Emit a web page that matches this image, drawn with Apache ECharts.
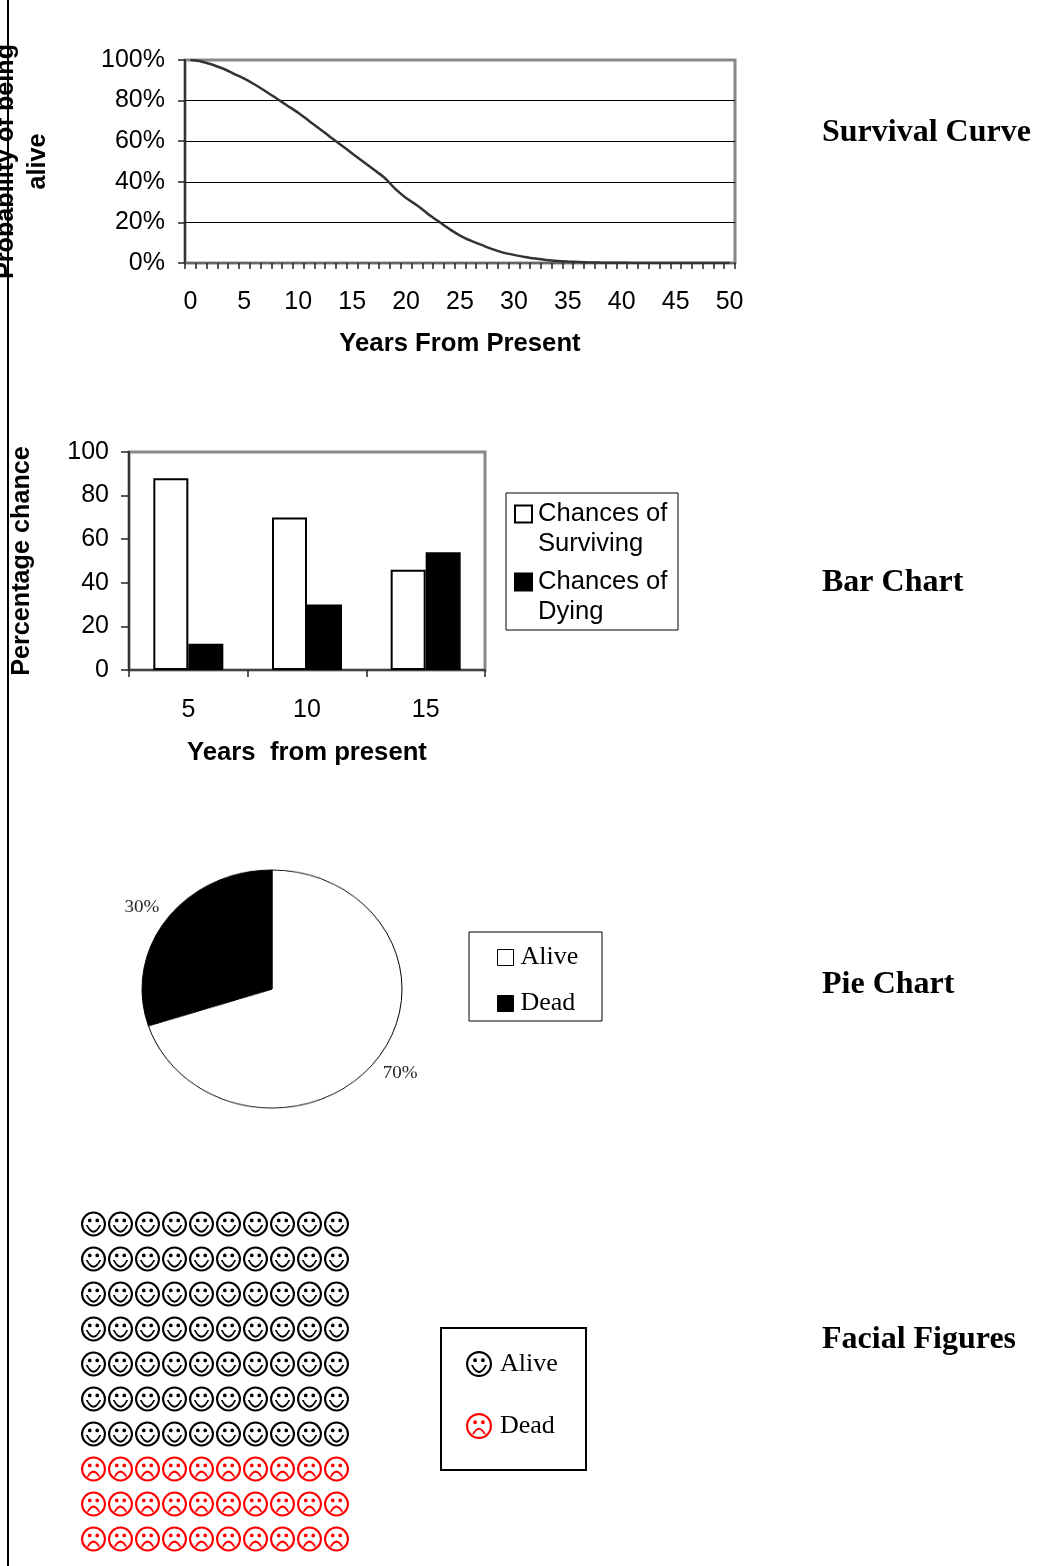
<!DOCTYPE html>
<html><head><meta charset="utf-8">
<style>html,body{margin:0;padding:0;background:#fff}
#main{position:absolute;left:0;top:0;width:1056px;height:1566px}
#pie{position:absolute;left:72px;top:788.5px;width:400px;height:400px;transform:scaleY(0.916);transform-origin:50% 50%}</style>
<script src="https://cdn.jsdelivr.net/npm/echarts@6/dist/echarts.min.js"></script>
</head><body><div id="main"></div><div id="pie"></div>
<script>
const years=['0','1','2','3','4','5','6','7','8','9','10','11','12','13','14','15','16','17','18','19','20','21','22','23','24','25','26','27','28','29','30','31','32','33','34','35','36','37','38','39','40','41','42','43','44','45','46','47','48','49','50'];
const survival=[100,99.3,97.8,95.8,93.3,90.8,87.8,84.5,81,77.5,74,70,66,62,58,54,50,46,42,36.5,32,28.5,24.3,20.5,16.8,13.5,11,8.9,6.8,5.1,4,3,2.2,1.5,1,0.7,0.5,0.3,0.2,0.15,0.1,0.05,0.03,0.02,0.01,0,0,0,0,0,0];
const barYears=['5','10','15'];
const surviving=[88,70,46];
const dying=[12,30,54];
const pieNames=['Alive','Dead'];
const pieValues=[70,30];
const faceCols=['1','2','3','4','5','6','7','8','9','10'];
const faceRows=['1','2','3','4','5','6','7','8','9','10'];
const aliveRows=['1','2','3','4','5','6','7'];
const deadRows=['8','9','10'];
const sectionTitles=['Survival Curve','Bar Chart','Pie Chart','Facial Figures'];

const sans='Liberation Sans',serif='Liberation Serif';
const ring='M0 12A12 12 0 1 1 24 12A12 12 0 1 1 0 12ZM2 12A10 10 0 1 0 22 12A10 10 0 1 0 2 12Z';
const eyes='M6.6 8.6a1.8 1.8 0 1 1 3.6 0a1.8 1.8 0 1 1 -3.6 0ZM13.8 8.6a1.8 1.8 0 1 1 3.6 0a1.8 1.8 0 1 1 -3.6 0Z';
const smile='path://'+ring+eyes+'M4.6 13Q12 28 19.4 13L17.6 13Q12 24 6.4 13Z';
const frown='path://'+ring+eyes+'M5.5 19.5Q12 7.5 18.5 19.5L16.5 19.5Q12 11.5 7.5 19.5Z';
const pairs=(rows)=>rows.flatMap(r=>faceCols.map(c=>[c,r]));
const axisNameX={fontFamily:sans,fontWeight:'bold',fontSize:25.7,color:'#000',lineHeight:32};
const axisNameY={fontFamily:sans,fontWeight:'bold',fontSize:25.2,color:'#000',lineHeight:32};
const lab={fontFamily:sans,fontSize:25,color:'#000'};
const tick={show:true,length:7,lineStyle:{color:'#222',width:1.5}};

const option={
 animation:false,backgroundColor:'#fff',
 title:sectionTitles.map((t,i)=>({text:t,left:822,top:[117,567,969,1324][i],padding:0,
   textStyle:{fontFamily:serif,fontWeight:'bold',fontSize:32,color:'#000'}})),
 grid:[
  {left:185,top:60,width:550,height:203,show:true,borderColor:'#888',borderWidth:3,backgroundColor:'#fff',outerBoundsMode:'none',containLabel:false},
  {left:129,top:452,width:356,height:218,show:true,borderColor:'#888',borderWidth:3,backgroundColor:'#fff',outerBoundsMode:'none',containLabel:false},
  {left:80,top:1206.5,width:270,height:350,outerBoundsMode:'none',containLabel:false}
 ],
 xAxis:[
  {gridIndex:0,type:'category',data:years,boundaryGap:true,
   axisLine:{lineStyle:{color:'#666',width:2}},axisTick:{...tick,length:6,interval:0},
   axisLabel:{...lab,interval:4,margin:27},
   name:'Years From Present',nameLocation:'middle',nameGap:65,nameTextStyle:axisNameX},
  {gridIndex:1,type:'category',data:barYears,
   axisLine:{lineStyle:{color:'#444',width:2}},axisTick:{...tick,length:7},
   axisLabel:{...lab,margin:28},
   name:'Years  from present',nameLocation:'middle',nameGap:67,nameTextStyle:axisNameX},
  {gridIndex:2,type:'category',data:faceCols,show:false}
 ],
 yAxis:[
  {gridIndex:0,type:'value',min:0,max:100,interval:20,
   axisLine:{show:true,lineStyle:{color:'#333',width:2}},axisTick:tick,
   axisLabel:{...lab,margin:20,padding:[4,0,0,0],formatter:'{value}%'},
   splitLine:{show:true,showMinLine:false,showMaxLine:false,lineStyle:{color:'#000',width:1}},
   name:'Probability of being\nalive',nameLocation:'middle',nameRotate:90,nameGap:131,nameTextStyle:axisNameY},
  {gridIndex:1,type:'value',min:0,max:100,interval:20,
   axisLine:{show:true,lineStyle:{color:'#333',width:2}},axisTick:{...tick,length:8},
   axisLabel:{...lab,margin:20,padding:[2,0,0,0]},splitLine:{show:false},
   name:'Percentage chance',nameLocation:'middle',nameRotate:90,nameGap:91,nameTextStyle:axisNameY},
  {gridIndex:2,type:'category',data:faceRows,inverse:true,show:false}
 ],
 legend:[
  {left:514,top:469,padding:0,orient:'vertical',itemGap:-22,itemWidth:17,itemHeight:17,
   data:[{name:'Chances of Surviving',icon:'rect'},{name:'Chances of Dying',icon:'rect'}],
   formatter:n=>'\n'+n.replace(' of ',' of\n'),
   textStyle:{fontFamily:sans,fontSize:25.6,color:'#000',lineHeight:30,padding:[0,0,0,1]}},
  {left:497,top:944.5,padding:0,orient:'vertical',itemGap:20,itemWidth:16,itemHeight:16,
   data:[{name:'Alive',icon:'rect',itemStyle:{color:'#fff',borderColor:'#000',borderWidth:1}},
         {name:'Dead',icon:'rect',itemStyle:{color:'#000',borderColor:'#000',borderWidth:1}}],
   textStyle:{fontFamily:serif,fontSize:26,color:'#000',lineHeight:24,padding:[0,0,0,2]}},
  {left:466,top:1351,padding:0,orient:'vertical',itemGap:36,itemWidth:26,itemHeight:26,
   data:[{name:'Alive',icon:smile,itemStyle:{color:'#000',borderWidth:0}},
         {name:'Dead',icon:frown,itemStyle:{color:'#f00',borderWidth:0}}],
   textStyle:{fontFamily:serif,fontSize:26,color:'#000',padding:[12,0,0,3]}}
 ],
 graphic:[
  {type:'line',shape:{x1:8,y1:0,x2:8,y2:1566},style:{stroke:'#000',lineWidth:2},silent:true},
  {type:'rect',shape:{x:506,y:493,width:172,height:137},style:{fill:null,stroke:'#000',lineWidth:1},silent:true},
  {type:'rect',shape:{x:469,y:932,width:133,height:89},style:{fill:null,stroke:'#000',lineWidth:1},silent:true},
  {type:'rect',shape:{x:441,y:1328,width:145,height:142},style:{fill:null,stroke:'#000',lineWidth:2},silent:true}
 ],
 series:[
  {type:'line',name:'Survival',xAxisIndex:0,yAxisIndex:0,data:survival,symbol:'none',smooth:0.3,
   lineStyle:{color:'#333',width:2.5}},
  {type:'bar',name:'Chances of Surviving',xAxisIndex:1,yAxisIndex:1,data:surviving,barWidth:35,barGap:0,
   itemStyle:{color:'#fff',borderColor:'#000',borderWidth:2}},
  {type:'bar',name:'Chances of Dying',xAxisIndex:1,yAxisIndex:1,data:dying,barWidth:35,barGap:0,
   itemStyle:{color:'#000',borderColor:'#000',borderWidth:2}},
  {type:'scatter',name:'Alive',xAxisIndex:2,yAxisIndex:2,data:pairs(aliveRows),symbol:smile,symbolSize:25,
   itemStyle:{color:'#000',opacity:1}},
  {type:'scatter',name:'Dead',xAxisIndex:2,yAxisIndex:2,data:pairs(deadRows),symbol:frown,symbolSize:25,
   itemStyle:{color:'#f00',opacity:1}}
 ]
};
echarts.init(document.getElementById('main')).setOption(option);

const labelShift=[{dx:-14,dy:11},{dx:12,dy:-8}];
echarts.init(document.getElementById('pie')).setOption({
 animation:false,
 series:[{type:'pie',center:[200,200],radius:[0,130],startAngle:90,clockwise:true,
  data:pieNames.map((n,i)=>({name:n,value:pieValues[i],itemStyle:{color:i?'#000':'#fff'}})),
  itemStyle:{borderColor:'#000',borderWidth:1},
  label:{show:true,position:'outside',formatter:'{d}%',fontFamily:serif,fontSize:19,color:'#222'},
  labelLine:{show:false,length:8,length2:8},
  labelLayout:p=>labelShift[p.dataIndex],
  emphasis:{disabled:true}}]
});
</script></body></html>
